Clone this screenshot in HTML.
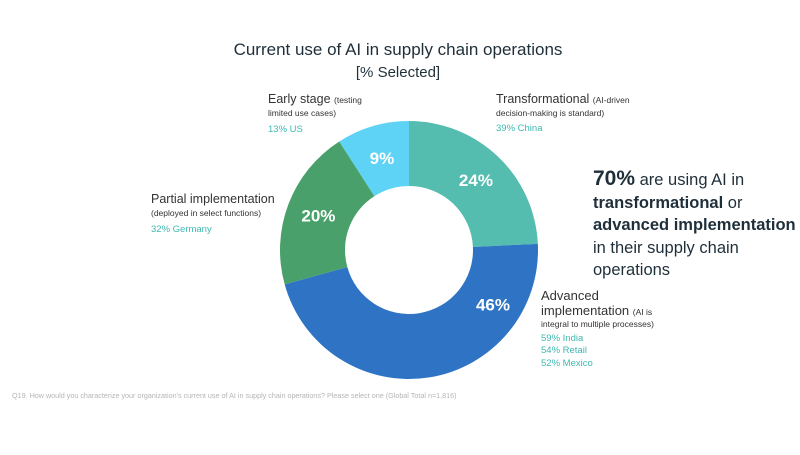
<!DOCTYPE html>
<html><head><meta charset="utf-8"><style>
body{margin:0;width:800px;height:450px;background:#fff;overflow:hidden;font-family:"Liberation Sans",sans-serif}
</style></head><body>
<svg width="800" height="450" font-family="Liberation Sans, sans-serif">
<text x="398" y="55" font-size="17" text-anchor="middle" fill="#1f2f3a">Current use of AI in supply chain operations</text>
<text x="398" y="77" font-size="15" text-anchor="middle" fill="#1f2f3a">[% Selected]</text>
<g id="slices"></g>
<g>
<text x="268" y="103" font-size="12.5" fill="#333">Early stage <tspan font-size="8.5">(testing</tspan></text>
<text x="268" y="116" font-size="8.5" fill="#333">limited use cases)</text>
<text x="268" y="132" font-size="9.5" fill="#3fb8b0">13% US</text>
</g>
<g>
<text x="496" y="103" font-size="12.5" fill="#333">Transformational <tspan font-size="8.5">(AI-driven</tspan></text>
<text x="496" y="116" font-size="8.5" fill="#333">decision-making is standard)</text>
<text x="496" y="131" font-size="9.5" fill="#3fb8b0">39% China</text>
</g>
<g>
<text x="151" y="203" font-size="12.5" fill="#333">Partial implementation</text>
<text x="151" y="216" font-size="8.5" fill="#333">(deployed in select functions)</text>
<text x="151" y="232" font-size="9.5" fill="#3fb8b0">32% Germany</text>
</g>
<g>
<text x="541" y="300" font-size="13" fill="#333">Advanced</text>
<text x="541" y="315" font-size="13" fill="#333">implementation <tspan font-size="8.5">(AI is</tspan></text>
<text x="541" y="327" font-size="8.5" fill="#333">integral to multiple processes)</text>
<text x="541" y="341" font-size="9.5" fill="#3fb8b0">59% India</text>
<text x="541" y="353" font-size="9.5" fill="#3fb8b0">54% Retail</text>
<text x="541" y="366" font-size="9.5" fill="#3fb8b0">52% Mexico</text>
</g>
<g fill="#1f2f3a" font-size="16.5">
<text x="593" y="185"><tspan font-size="21" font-weight="bold">70%</tspan> are using AI in</text>
<text x="593" y="208" font-weight="bold">transformational <tspan font-weight="normal">or</tspan></text>
<text x="593" y="230" font-weight="bold">advanced implementation</text>
<text x="593" y="253">in their supply chain</text>
<text x="593" y="275">operations</text>
</g>
<text x="12" y="398" font-size="7.2" fill="#b5b5b5">Q19. How would you characterize your organization's current use of AI in supply chain operations? Please select one (Global Total n=1,816)</text>
</svg>
<script>
const categories=["Transformational","Advanced implementation","Partial implementation","Early stage"];
const values=[24,46,20,9];
const colors=["#55bdb0","#2f74c4","#4aa06a","#5fd3f5"];
const labelShiftDeg=[0,-48,0,0];
const labelRad=[97,100,97,96];
const cx=409,cy=250,R=129,r=64;
const total=values.reduce((a,b)=>a+b,0);
const g=document.getElementById('slices');
const ns="http://www.w3.org/2000/svg";
function pt(a,rad){return [cx+rad*Math.sin(a),cy-rad*Math.cos(a)];}
let a0=0;
values.forEach((v,i)=>{
  const a1=a0+v/total*2*Math.PI;
  const large=(a1-a0)>Math.PI?1:0;
  const [x0,y0]=pt(a0,R),[x1,y1]=pt(a1,R),[x2,y2]=pt(a1,r),[x3,y3]=pt(a0,r);
  const p=document.createElementNS(ns,'path');
  p.setAttribute('d',`M${x0},${y0}A${R},${R} 0 ${large} 1 ${x1},${y1}L${x2},${y2}A${r},${r} 0 ${large} 0 ${x3},${y3}Z`);
  p.setAttribute('fill',colors[i]);
  
  
  g.appendChild(p);
  const am=(a0+a1)/2+labelShiftDeg[i]*Math.PI/180;const [lx,ly]=pt(am,labelRad[i]);
  const t=document.createElementNS(ns,'text');
  t.setAttribute('x',lx);t.setAttribute('y',ly+6);
  t.setAttribute('text-anchor','middle');t.setAttribute('font-size','17');
  t.setAttribute('font-weight','bold');t.setAttribute('fill','#fff');
  t.textContent=v+'%';
  
  
  g.appendChild(t);
  a0=a1;
});
</script>
</body></html>
